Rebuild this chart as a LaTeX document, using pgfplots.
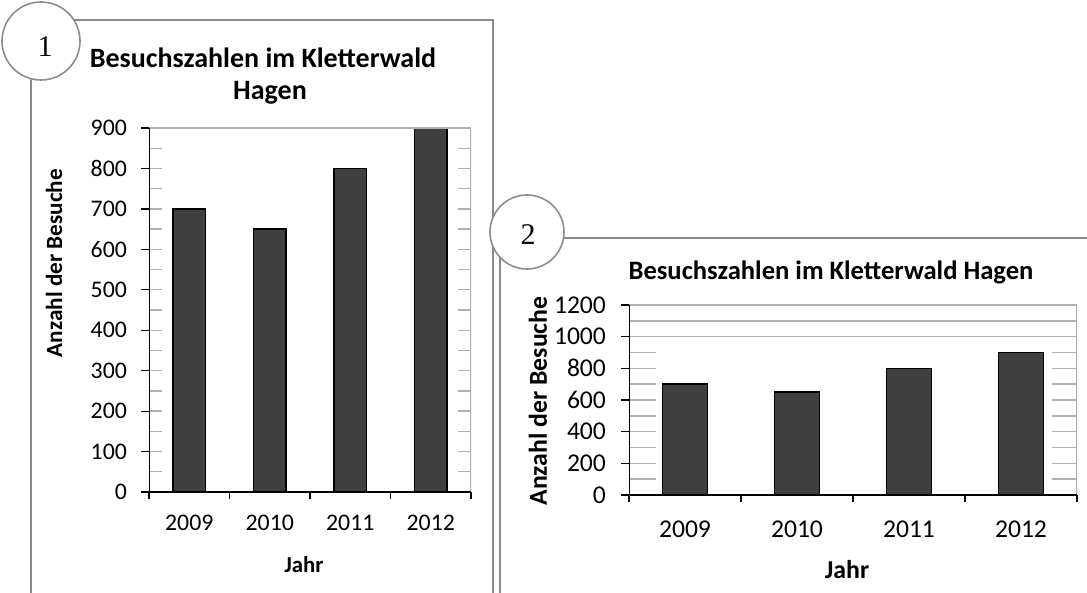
\documentclass[border=0pt]{standalone}
\usepackage{fontspec}
\setmainfont{Carlito}
\newfontfamily\seriffont{Liberation Serif}
\usepackage{pgfplots}
\pgfplotsset{compat=1.18}

\definecolor{barc}{HTML}{404040}
\definecolor{framec}{HTML}{8C8C8C}
\definecolor{gridc}{HTML}{B0B0B0}

\pgfplotsset{
  kletter/.style={
    anchor=south west, scale only axis,
    xmin=0.5, xmax=4.5, ymin=0,
    axis line style={draw=none},
    tick align=outside,
    xtick={1,2,3,4}, xticklabels={2009,2010,2011,2012},
    minor xtick={0.5,1.5,2.5,3.5,4.5},
    major x tick style={draw=none},
    minor x tick style={black, line width=0.6pt},
    minor tick length=3.5pt,
    y tick style={black, line width=0.6pt},
    major tick length=4pt,
    minor y tick num=1,
    minor y tick style={draw=none},
    ymajorgrids, yminorgrids,
    major grid style={gridc, line width=0.7pt},
    minor grid style={gridc, line width=0.7pt},
    xtick pos=bottom, ytick pos=left,
    /pgf/number format/assume math mode=true,
    /pgf/number format/1000 sep={},
  },
}

\begin{document}
\begin{tikzpicture}
\begin{scope}[x=0.5pt, y=-0.5pt]
  \path[use as bounding box] (0,0) rectangle (1087,593);
  % frames
  \draw[framec, line width=1pt] (31,593) -- (31,20) -- (493,20) -- (493,593);
  \draw[framec, line width=1pt] (500,593) -- (500,238) -- (1087,238);
  \filldraw[fill=white, draw=framec, line width=0.8pt] (41,41) circle[radius=19.5pt];
  \filldraw[fill=white, draw=framec, line width=0.8pt] (527,232) circle[radius=18.5pt];
  \node[font=\seriffont\fontsize{15}{17}\selectfont] at (45,47) {1};
  \node[font=\seriffont\fontsize{15}{17}\selectfont] at (528,235) {2};
  % chart 1 texts
  \node[font=\bfseries\fontsize{14}{16}\selectfont] at (263,58) {Besuchszahlen im Kletterwald};
  \node[font=\bfseries\fontsize{14}{16}\selectfont] at (270,93) {Hagen};
  \node[font=\bfseries\fontsize{11.6}{13}\selectfont, rotate=90] at (54,263) {Anzahl der Besuche};
  \node[font=\bfseries\fontsize{11.4}{13}\selectfont] at (304,565) {Jahr};
  % chart 2 texts
  \node[font=\bfseries\fontsize{13.3}{15}\selectfont] at (831,272) {Besuchszahlen im Kletterwald Hagen};
  \node[font=\bfseries\fontsize{12.9}{15}\selectfont, rotate=90] at (538,401) {Anzahl der Besuche};
  \node[font=\bfseries\fontsize{12.9}{15}\selectfont] at (847,570) {Jahr};
\end{scope}

% chart 1
\begin{axis}[kletter,
  at={(74.5pt,-246pt)}, width=161pt, height=182pt,
  ymax=900, ytick={0,100,...,900},
  ticklabel style={font=\fontsize{11.9}{13}\selectfont},
  yticklabel style={xshift=-3.5pt},
  xticklabel style={yshift=-4pt},
]
\fill[white] (axis cs:0.6615,0) rectangle (axis cs:4.3385,895);
\addplot[ybar, bar width=0.4, fill=barc, draw=black, line width=0.7pt]
  coordinates {(1,700) (2,650) (3,800) (4,900)};
\draw[gridc, line width=0.7pt] (rel axis cs:0,1) -- (rel axis cs:1,1) -- (rel axis cs:1,0);
\draw[black, line width=0.7pt] (rel axis cs:0,1) -- (rel axis cs:0,0) -- (rel axis cs:1,0);
\end{axis}

% chart 2
\begin{axis}[kletter,
  at={(314.5pt,-247.5pt)}, width=224pt, height=95pt,
  ymax=1200, ytick={0,200,...,1200},
  ticklabel style={font=\fontsize{12.8}{14}\selectfont},
  yticklabel style={xshift=-4pt},
  xticklabel style={yshift=-5.5pt},
]
\fill[white] (axis cs:0.741,0) rectangle (axis cs:4.277,950);
\addplot[ybar, bar width=0.4, fill=barc, draw=black, line width=0.7pt]
  coordinates {(1,700) (2,650) (3,800) (4,900)};
\draw[gridc, line width=0.7pt] (rel axis cs:0,1) -- (rel axis cs:1,1) -- (rel axis cs:1,0);
\draw[black, line width=0.7pt] (rel axis cs:0,1) -- (rel axis cs:0,0) -- (rel axis cs:1,0);
\end{axis}
\end{tikzpicture}
\end{document}
